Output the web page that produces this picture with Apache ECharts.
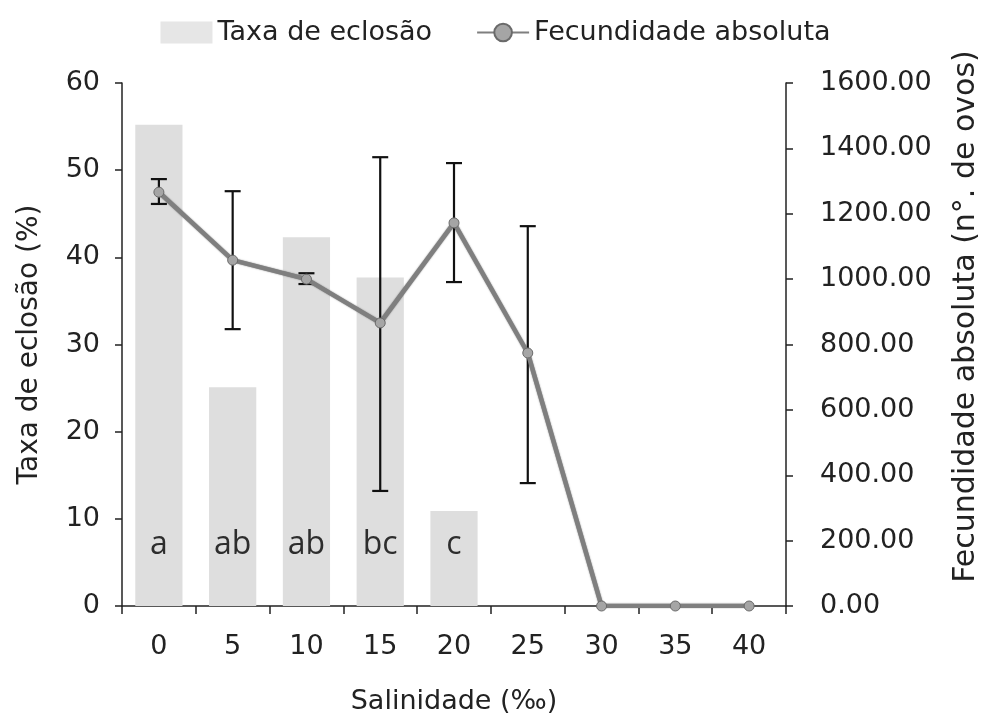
<!DOCTYPE html>
<html>
<head>
<meta charset="utf-8">
<script src="https://cdn.jsdelivr.net/npm/echarts@6/dist/echarts.min.js"></script>
<style>
html,body{margin:0;padding:0;background:#fff;}
#chart{width:991px;height:719px;}
</style>
</head>
<body>
<div id="chart"></div>
<script>
const categories = ['0','5','10','15','20','25','30','35','40'];
const taxaEclosao = [55.2, 25.1, 42.3, 37.7, 10.9, 0, 0, 0, 0];
const fecundidade = [1266, 1058, 1000, 866, 1172, 774, 0, 0, 0];
const errLow  = [1230, 847, 985, 352, 991, 376, null, null, null];
const errHigh = [1306, 1269, 1018, 1373, 1355, 1162, null, null, null];
const letters = ['a', 'ab', 'ab', 'bc', 'c'];
const letterLevel = 7;
const leftTicks = {min: 0, max: 60, interval: 10};
const rightTicks = {min: 0, max: 1600, interval: 200};

const errData = [];
errLow.forEach((lo, i) => { if (lo !== null) errData.push([i, lo, errHigh[i]]); });
const letterData = letters.map((l, i) => [i, letterLevel]);

const FONT = 'DejaVu Sans';
const chart = echarts.init(document.getElementById('chart'));
chart.setOption({
  animation: false,
  backgroundColor: '#ffffff',
  legend: {
    top: 14,
    left: 'center',
    itemWidth: 52,
    itemHeight: 22,
    itemGap: 44,
    textStyle: {fontFamily: FONT, fontSize: 27, color: '#222'},
    data: [{name: 'Taxa de eclosão', icon: 'rect', itemStyle: {color: '#e6e6e6'}}, {name: 'Fecundidade absoluta'}]
  },
  grid: {left: 122, right: 205, top: 83, bottom: 113, outerBoundsMode: 'none', containLabel: false},
  xAxis: {
    type: 'category',
    data: categories,
    name: 'Salinidade (‰)',
    nameLocation: 'middle',
    nameGap: 82,
    nameTextStyle: {fontFamily: FONT, fontSize: 27, color: '#222'},
    axisLine: {lineStyle: {color: '#222', width: 1.5}},
    axisTick: {show: true, length: 8, lineStyle: {color: '#222', width: 1.5}},
    axisLabel: {fontFamily: FONT, fontSize: 27, color: '#222', margin: 27}
  },
  yAxis: [{
    type: 'value',
    min: leftTicks.min, max: leftTicks.max, interval: leftTicks.interval,
    name: 'Taxa de eclosão (%)',
    nameLocation: 'middle',
    nameGap: 78,
    nameRotate: 90,
    nameTextStyle: {fontFamily: FONT, fontSize: 28, color: '#222'},
    splitLine: {show: false},
    axisLine: {show: true, lineStyle: {color: '#222', width: 1.5}},
    axisTick: {show: true, length: 7, lineStyle: {color: '#222', width: 1.5}},
    axisLabel: {fontFamily: FONT, fontSize: 27, color: '#222', margin: 22}
  }, {
    type: 'value',
    position: 'right',
    min: rightTicks.min, max: rightTicks.max, interval: rightTicks.interval,
    name: 'Fecundidade absoluta (n°. de ovos)',
    nameLocation: 'middle',
    nameGap: 165,
    nameRotate: 90,
    nameTextStyle: {fontFamily: FONT, fontSize: 30, color: '#222', padding: [0, 0, 0, 56]},
    splitLine: {show: false},
    axisLine: {show: true, lineStyle: {color: '#222', width: 1.5}},
    axisTick: {show: true, length: 7, lineStyle: {color: '#222', width: 1.5}},
    axisLabel: {fontFamily: FONT, fontSize: 27, color: '#222', margin: 34,
      formatter: v => v.toFixed(2)}
  }],
  series: [{
    name: 'Taxa de eclosão',
    type: 'bar',
    yAxisIndex: 0,
    data: taxaEclosao,
    barWidth: '64%',
    itemStyle: {color: '#dedede'},
    z: 1
  }, {
    name: 'errorbars',
    type: 'custom',
    yAxisIndex: 1,
    data: errData,
    encode: {x: 0, y: [1, 2]},
    z: 3,
    renderItem: function (params, api) {
      const x = api.value(0);
      const pLo = api.coord([x, api.value(1)]);
      const pHi = api.coord([x, api.value(2)]);
      const w = 8;
      const st = {stroke: '#111', lineWidth: 2.2};
      return {type: 'group', children: [
        {type: 'line', shape: {x1: pLo[0], y1: pLo[1], x2: pHi[0], y2: pHi[1]}, style: st},
        {type: 'line', shape: {x1: pLo[0] - w, y1: pLo[1], x2: pLo[0] + w, y2: pLo[1]}, style: st},
        {type: 'line', shape: {x1: pHi[0] - w, y1: pHi[1], x2: pHi[0] + w, y2: pHi[1]}, style: st}
      ]};
    }
  }, {
    name: 'Fecundidade absoluta',
    type: 'line',
    yAxisIndex: 1,
    data: fecundidade,
    symbol: 'circle',
    symbolSize: 10,
    lineStyle: {color: '#7f7f7f', width: 4.5, shadowColor: 'rgba(0,0,0,0.5)', shadowBlur: 1.5},
    itemStyle: {color: '#a5a5a5', borderColor: '#6a6a6a', borderWidth: 1},
    z: 4
  }, {
    name: 'letters',
    type: 'scatter',
    yAxisIndex: 0,
    data: letterData,
    symbolSize: 1,
    itemStyle: {color: 'rgba(0,0,0,0)'},
    label: {
      show: true,
      position: 'inside',
      formatter: p => letters[p.dataIndex],
      fontFamily: 'Open Sans',
      fontSize: 32,
      color: '#000'
    },
    z: 5
  }]
});
</script>
</body>
</html>
